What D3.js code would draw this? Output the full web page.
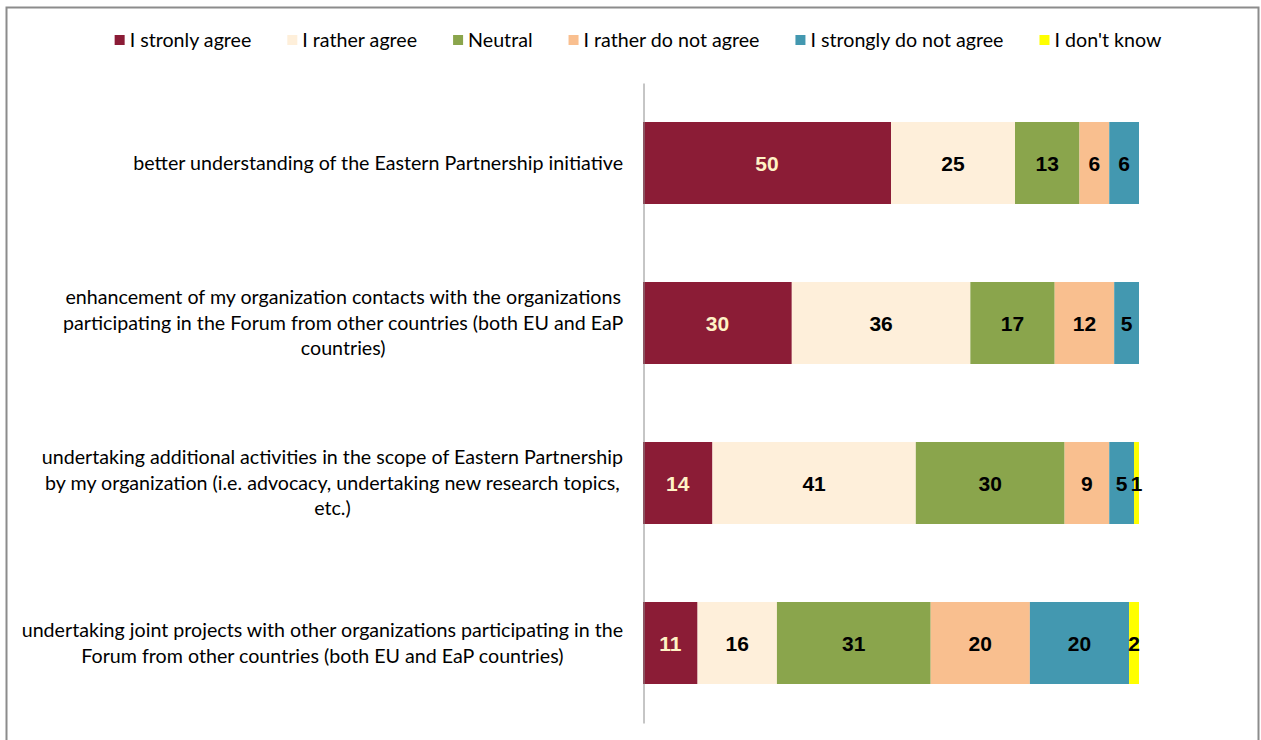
<!DOCTYPE html>
<html>
<head>
<meta charset="utf-8">
<script src="https://cdn.jsdelivr.net/npm/d3@7"></script>
<style>
  html, body { margin: 0; padding: 0; background: #fff; }
  svg { display: block; }
</style>
</head>
<body>
<svg id="chart" width="1261" height="740"></svg>
<script>
const categories = [
  "better understanding of the Eastern Partnership initiative",
  "enhancement of my organization contacts with the organizations\nparticipating in the Forum from other countries (both EU and EaP\ncountries)",
  "undertaking additional activities in the scope of Eastern Partnership\nby my organization (i.e. advocacy, undertaking new research topics,\netc.)",
  "undertaking joint projects with other organizations participating in the\nForum from other countries (both EU and EaP countries)"
];
const seriesNames = ["I stronly agree", "I rather agree", "Neutral", "I rather do not agree", "I strongly do not agree", "I don't know"];
const stronglyAgree    = [50, 30, 14, 11];
const ratherAgree      = [25, 36, 41, 16];
const neutral          = [13, 17, 30, 31];
const ratherDisagree   = [6, 12, 9, 20];
const stronglyDisagree = [6, 5, 5, 20];
const dontKnow         = [0, 0, 1, 2];
const seriesColors = ["#8B1C36", "#FEEFDA", "#8AA54C", "#F9BF8F", "#4398B0", "#FFFF00"];
const labelColors  = ["#FFF2C6", "#000", "#000", "#000", "#000", "#000"];

const seriesValues = [stronglyAgree, ratherAgree, neutral, ratherDisagree, stronglyDisagree, dontKnow];
const rows = categories.map((c, i) => {
  const o = { cat: c };
  seriesNames.forEach((s, j) => o[s] = seriesValues[j][i]);
  return o;
});

const FONT = "'Liberation Sans Narrow', 'Arial Narrow', Lato, sans-serif";
const svg = d3.select("#chart");

// outer border
svg.append("rect").attr("x", 6.5).attr("y", 7.5).attr("width", 1252).attr("height", 760)
  .attr("fill", "none").attr("stroke", "#8c8c8c").attr("stroke-width", 2);

const x = d3.scaleLinear().domain([0, 100]).range([643, 1139]);
const y = d3.scaleBand().domain(categories).range([83, 723]).paddingInner(0.4875).paddingOuter(0.24375);

const stack = d3.stack().keys(seriesNames)(rows);

const g = svg.append("g");
stack.forEach((layer, j) => {
  const lg = g.append("g");
  lg.selectAll("rect").data(layer).join("rect")
    .attr("x", d => x(d[0]))
    .attr("width", d => x(d[1]) - x(d[0]))
    .attr("y", d => y(d.data.cat))
    .attr("height", y.bandwidth())
    .attr("fill", seriesColors[j]);
});
stack.forEach((layer, j) => {
  g.append("g").selectAll("text").data(layer.filter(d => d[1] - d[0] > 0)).join("text")
    .attr("x", d => (x(d[0]) + x(d[1])) / 2)
    .attr("y", d => y(d.data.cat) + y.bandwidth() / 2)
    .attr("dy", "0.36em")
    .attr("text-anchor", "middle")
    .attr("font-family", "'Liberation Sans', Arial, sans-serif")
    .attr("font-weight", "bold")
    .attr("font-size", 21)
    .attr("fill", labelColors[j])
    .text(d => d[1] - d[0]);
});

// axis line
const yAxis = d3.axisLeft(y).tickSize(0).tickFormat("");
const ax = svg.append("g").attr("transform", "translate(643.5,0)").call(yAxis);
ax.select(".domain").attr("stroke", "#8c8c8c").attr("stroke-width", 1);

// category labels
const labelRight = 623;
const lineH = 25.5;
let catSize = 18;
// fit font size so first label matches reference width
const probe = svg.append("text").attr("font-family", FONT).attr("font-size", 18).text(categories[0]);
const pw = probe.node().getComputedTextLength();
probe.remove();
catSize = 18 * 490 / pw;

categories.forEach(c => {
  const lines = c.split("\n");
  const t = svg.append("text")
    .attr("font-family", FONT).attr("font-size", catSize).attr("fill", "#000")
    .attr("text-anchor", "middle");
  const spans = lines.map((ln, k) => t.append("tspan").text(ln));
  const maxW = d3.max(spans, s => s.node().getComputedTextLength());
  const cx = labelRight - maxW / 2;
  const cy = y(c) + y.bandwidth() / 2;
  const y0 = cy - (lines.length - 1) * lineH / 2;
  spans.forEach((s, k) => s.attr("x", cx).attr("y", y0 + k * lineH).attr("dy", "0.35em"));
});

// legend
const legendY = 40;
const lg = svg.append("g");
const items = seriesNames.map((s, i) => {
  const it = lg.append("g");
  it.append("rect").attr("width", 10).attr("height", 10).attr("y", legendY - 5).attr("fill", seriesColors[i]);
  const tx = it.append("text").attr("x", 15).attr("y", legendY).attr("dy", "0.35em")
    .attr("font-family", FONT).attr("font-size", catSize).attr("fill", "#000").text(s);
  return { it, w: 15 + tx.node().getComputedTextLength() };
});
const gap = 36;
const total = d3.sum(items, d => d.w) + gap * (items.length - 1);
let lx = 638 - total / 2;
items.forEach(d => { d.it.attr("transform", `translate(${lx},0)`); lx += d.w + gap; });
</script>
</body>
</html>
